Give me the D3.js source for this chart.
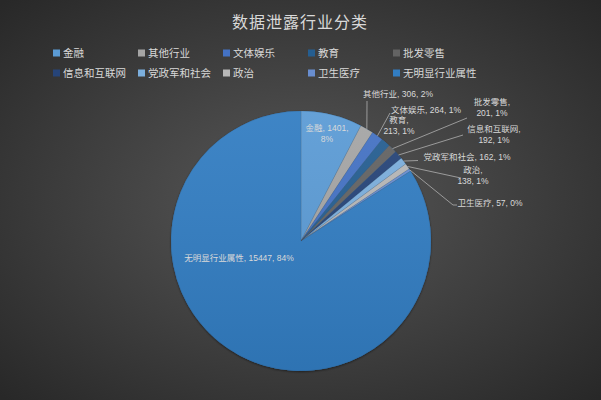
<!DOCTYPE html>
<html>
<head>
<meta charset="utf-8">
<script src="https://cdn.jsdelivr.net/npm/d3@7"></script>
<style>
  html, body { margin: 0; padding: 0; background: #333; }
  svg { display: block; }
</style>
</head>
<body>
<div id="chart"></div>
<script>
// data
var categories = ["金融", "其他行业", "文体娱乐", "教育", "批发零售",
                  "信息和互联网", "党政军和社会", "政治", "卫生医疗", "无明显行业属性"];
var values = [1401, 306, 264, 213, 201, 192, 162, 138, 57, 15447];
var percents = ["8%", "2%", "1%", "1%", "1%", "1%", "1%", "1%", "0%", "84%"];
var colors = ["#5b9bd5", "#a5a5a5", "#4472c4", "#255e91", "#636363",
              "#264478", "#7cafdd", "#b7b7b7", "#698ed0", "#327dc2"];

var W = 601, H = 400;
var cx = 301, cy = 241, r = 130;
var textColor = "#d9d9d9";
var cjk = "'Liberation Sans', 'Noto Sans CJK SC', sans-serif";

var svg = d3.select("#chart").append("svg")
    .attr("width", W)
    .attr("height", H);

var defs = svg.append("defs");
var bg = defs.append("radialGradient").attr("id", "bg")
    .attr("cx", "50%").attr("cy", "50%").attr("r", "70%");
bg.append("stop").attr("offset", "0%").attr("stop-color", "#585858");
bg.append("stop").attr("offset", "100%").attr("stop-color", "#282828");

var shade = defs.append("linearGradient").attr("id", "shade")
    .attr("x1", 0).attr("y1", 0).attr("x2", 0).attr("y2", 1);
shade.append("stop").attr("offset", "0%").attr("stop-color", "#fff").attr("stop-opacity", 0.06);
shade.append("stop").attr("offset", "100%").attr("stop-color", "#000").attr("stop-opacity", 0.08);

var blur = defs.append("filter").attr("id", "sh")
    .attr("x", "-10%").attr("y", "-10%").attr("width", "120%").attr("height", "120%");
blur.append("feDropShadow").attr("dx", 0).attr("dy", 1).attr("stdDeviation", 1.2)
    .attr("flood-color", "#000").attr("flood-opacity", 0.5);

svg.append("rect").attr("width", W).attr("height", H).attr("fill", "url(#bg)");

// title
svg.append("text")
    .attr("x", 300).attr("y", 28)
    .attr("text-anchor", "middle")
    .attr("fill", textColor)
    .style("font-family", cjk)
    .style("font-size", "16px")
    .style("letter-spacing", "1px")
    .text("数据泄露行业分类");

// legend, 5 per row
var legend = svg.append("g").selectAll("g")
    .data(categories)
    .enter().append("g")
    .attr("transform", function(d, i) {
      return "translate(" + (53 + (i % 5) * 85) + "," + (53 + Math.floor(i / 5) * 20) + ")";
    });
legend.append("rect")
    .attr("x", 0).attr("y", -3.5)
    .attr("width", 7).attr("height", 7)
    .attr("fill", function(d, i) { return colors[i]; });
legend.append("text")
    .attr("x", 10).attr("y", 3.8)
    .attr("fill", textColor)
    .style("font-family", cjk)
    .style("font-size", "10.5px")
    .text(function(d) { return d; });

// pie
var pie = d3.pie().sort(null).value(function(d) { return d; });
var arcs = pie(values);
var arc = d3.arc().innerRadius(0).outerRadius(r);

var g = svg.append("g").attr("transform", "translate(" + cx + "," + cy + ")");
g.append("circle").attr("r", r).attr("fill", "#327dc2").attr("filter", "url(#sh)");
g.selectAll("path.slice")
    .data(arcs)
    .enter().append("path")
    .attr("class", "slice")
    .attr("d", arc)
    .attr("fill", function(d, i) { return colors[i]; })
    .attr("stroke", "#3a3a3a")
    .attr("stroke-width", 0.15);
g.append("circle").attr("r", r).attr("fill", "url(#shade)");

// labels: offsets relative to the pie centre
var labelPos = [
  { x: 26, y: -110, lines: ["金融, 1401,", "8%"] },
  { x: 97, y: -144, lines: ["其他行业, 306, 2%"], lead: [[66, -144 + 4], [66, -113]] },
  { x: 125, y: -128, lines: ["文体娱乐, 264, 1%"], lead: [[89, -128], [77, -105]] },
  { x: 98, y: -118, lines: ["教育,", "213, 1%"] },
  { x: 191, y: -136, lines: ["批发零售,", "201, 1%"], lead: [[166, -123], [91, -93]] },
  { x: 193, y: -109, lines: ["信息和互联网,", "192, 1%"], lead: [[162, -106], [97, -86]] },
  { x: 166, y: -81.5, lines: ["党政军和社会, 162, 1%"], lead: [[117, -80.5], [102, -80]] },
  { x: 172, y: -68, lines: ["政治,", "138, 1%"], lead: [[160, -63], [106, -75]] },
  { x: 189, y: -35.5, lines: ["卫生医疗, 57, 0%"], lead: [[156, -36], [152, -36], [108, -71]] },
  { x: -62, y: 20, lines: ["无明显行业属性, 15447, 84%"] }
];

var labels = g.append("g");
arcs.forEach(function(a, i) {
  var p = labelPos[i];
  if (p.lead) {
    // end the leader on the slice's own arc
    var mid = (a.startAngle + a.endAngle) / 2;
    var pts = p.lead.slice(0, p.lead.length - 1);
    pts.push([Math.sin(mid) * r, -Math.cos(mid) * r]);
    labels.append("path")
        .attr("d", d3.line()(pts))
        .attr("fill", "none")
        .attr("stroke", "#bfbfbf")
        .attr("stroke-width", 0.7);
  }
  var t = labels.append("text")
      .attr("x", p.x).attr("y", p.y)
      .attr("text-anchor", "middle")
      .attr("fill", textColor)
      .style("font-family", cjk)
      .style("font-size", "8.5px");
  p.lines.forEach(function(line, k) {
    t.append("tspan")
        .attr("x", p.x)
        .attr("dy", k === 0 ? 0 : 11)
        .text(line);
  });
});
</script>
</body>
</html>
